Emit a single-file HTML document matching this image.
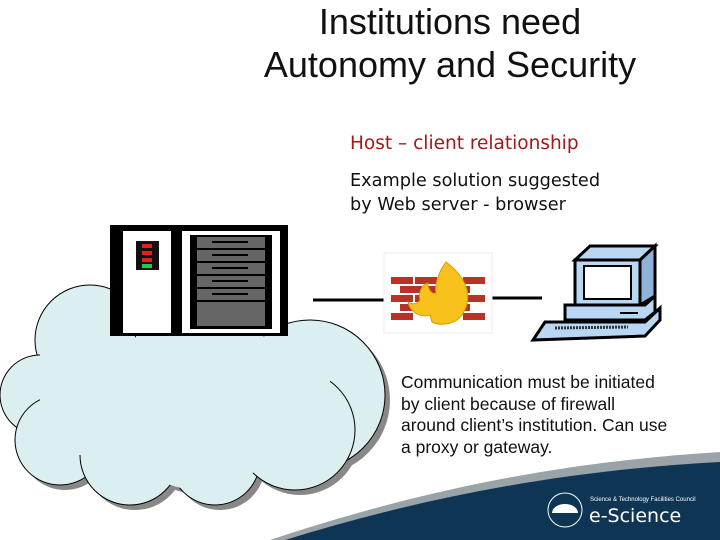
<!DOCTYPE html>
<html><head><meta charset="utf-8"><style>
html,body{margin:0;padding:0;background:#fff;}
body{width:720px;height:540px;position:relative;overflow:hidden;font-family:"Liberation Sans",sans-serif;}
.t{position:absolute;white-space:nowrap;}
</style></head><body>
<svg width="720" height="540" style="position:absolute;left:0;top:0">
  <path d="M270 540 C420 490 560 462 720 452 L720 540 Z" fill="#9aa3a8"/>
  <path d="M285 540 C430 495 570 470 720 462 L720 540 Z" fill="#0f3555"/>
  <g fill="#888" transform="translate(5,5)">
    <circle cx="90" cy="340" r="55"/><circle cx="190" cy="330" r="55"/><circle cx="310" cy="395" r="75"/>
    <circle cx="40" cy="395" r="40"/><circle cx="60" cy="440" r="45"/><circle cx="130" cy="455" r="50"/>
    <circle cx="215" cy="460" r="45"/><circle cx="295" cy="430" r="60"/><circle cx="200" cy="400" r="90"/>
  </g>
  <g fill="#dbeef0" stroke="#000" stroke-width="1">
    <circle cx="90" cy="340" r="55"/><circle cx="190" cy="330" r="55"/><circle cx="310" cy="395" r="75"/>
    <circle cx="40" cy="395" r="40"/><circle cx="60" cy="440" r="45"/><circle cx="130" cy="455" r="50"/>
    <circle cx="215" cy="460" r="45"/><circle cx="295" cy="430" r="60"/>
  </g>
  <circle cx="200" cy="400" r="90" fill="#dbeef0"/>
  <rect x="40" y="340" width="290" height="115" fill="#dbeef0"/>
  <line x1="313" y1="300" x2="384" y2="300" stroke="#000" stroke-width="3"/>
  <line x1="492" y1="298" x2="542" y2="298" stroke="#000" stroke-width="3"/>
  <rect x="110" y="225" width="178" height="111" fill="#000"/>
  <rect x="123" y="231" width="48" height="102" fill="#fff"/>
  <rect x="182" y="231" width="98" height="102" fill="#fff"/>
  <rect x="136" y="241" width="23" height="29" fill="#111"/>
  <rect x="142" y="244" width="10" height="4" fill="#d22"/><rect x="142" y="251" width="10" height="4" fill="#d22"/>
  <rect x="142" y="258" width="10" height="4" fill="#d22"/><rect x="142" y="264" width="10" height="4" fill="#2c4"/>
  <rect x="190" y="235" width="82" height="94" fill="#000"/>
  <g fill="#666"><rect x="197" y="237" width="68" height="11"/><rect x="197" y="250" width="68" height="11"/><rect x="197" y="263" width="68" height="11"/><rect x="197" y="276" width="68" height="11"/><rect x="197" y="289" width="68" height="11"/><rect x="197" y="302" width="68" height="24"/></g>
  <g stroke="#000" stroke-width="2"><line x1="212" y1="242" x2="248" y2="242"/><line x1="212" y1="255" x2="248" y2="255"/><line x1="212" y1="268" x2="248" y2="268"/><line x1="212" y1="281" x2="248" y2="281"/><line x1="212" y1="294" x2="248" y2="294"/></g>
  <rect x="384" y="253" width="108" height="80" fill="#fff" stroke="#eee"/>
  <g fill="#b83228">
    <rect x="391" y="277" width="22" height="7"/><rect x="415" y="277" width="22" height="7"/><rect x="439" y="277" width="22" height="7"/><rect x="463" y="277" width="22" height="7"/>
    <rect x="400" y="286" width="22" height="7"/><rect x="424" y="286" width="22" height="7"/><rect x="448" y="286" width="22" height="7"/>
    <rect x="391" y="295" width="22" height="7"/><rect x="415" y="295" width="22" height="7"/><rect x="439" y="295" width="22" height="7"/><rect x="463" y="295" width="22" height="7"/>
    <rect x="400" y="304" width="22" height="7"/><rect x="448" y="304" width="22" height="7"/>
    <rect x="391" y="313" width="22" height="7"/><rect x="463" y="313" width="22" height="7"/>
  </g>
  <path d="M446 262 C470 280 472 300 462 315 C455 325 440 326 432 322 L430 315 C420 318 410 312 408 302 C412 305 418 304 420 300 C418 292 422 285 428 283 C428 290 432 294 436 294 C434 283 440 270 446 262 Z" fill="#f7c21c" stroke="#d99a00"/>
  <polygon points="575,260 590,246 655,246 640,260" fill="#b9d6f2" stroke="#000" stroke-width="3"/>
  <polygon points="640,260 655,246 655,296 640,305" fill="#8fb3d8" stroke="#000" stroke-width="3"/>
  <rect x="575" y="260" width="65" height="45" fill="#b9d6f2" stroke="#000" stroke-width="3"/>
  <rect x="584" y="266" width="47" height="33" fill="#fff" stroke="#000" stroke-width="2"/>
  <polygon points="565,305 645,305 655,296 655,312 645,320 565,320" fill="#b9d6f2" stroke="#000" stroke-width="3"/>
  <line x1="620" y1="313" x2="638" y2="313" stroke="#000" stroke-width="2"/>
  <polygon points="545,322 645,322 660,308 660,320 645,336 533,340" fill="#b9d6f2" stroke="#000" stroke-width="3"/>
  <line x1="555" y1="328" x2="628" y2="327" stroke="#333" stroke-width="3" stroke-dasharray="2,1"/>
  <circle cx="565" cy="510" r="17" fill="none" stroke="#fff" stroke-width="1"/>
  <path d="M552 513 A13 9 0 0 1 578 513 Z" fill="#fff"/>
</svg>
<div class="t" style="left:200px;width:500px;top:0px;font-size:36px;line-height:43px;text-align:center;color:#111">Institutions need<br>Autonomy and Security</div>
<div class="t" style="left:350px;top:133px;color:#a01818;font-family:'DejaVu Sans',sans-serif;font-size:18.5px">Host – client relationship</div>
<div class="t" style="left:350px;top:169px;font-size:17.7px;line-height:24px;color:#111;font-family:'DejaVu Sans',sans-serif">Example solution suggested<br>by Web server - browser</div>
<div class="t" style="left:401px;top:372px;font-size:17.5px;line-height:21.5px;color:#111">Communication must be initiated<br>by client because of firewall<br>around client’s institution. Can use<br>a proxy or gateway.</div>
<div class="t" style="left:590px;top:497px;font-size:6px;color:#fff">Science &amp; Technology Facilities Council</div>
<div class="t" style="left:589px;top:505px;font-size:19px;color:#fff;font-family:'DejaVu Sans',sans-serif">e-Science</div>
</body></html>
